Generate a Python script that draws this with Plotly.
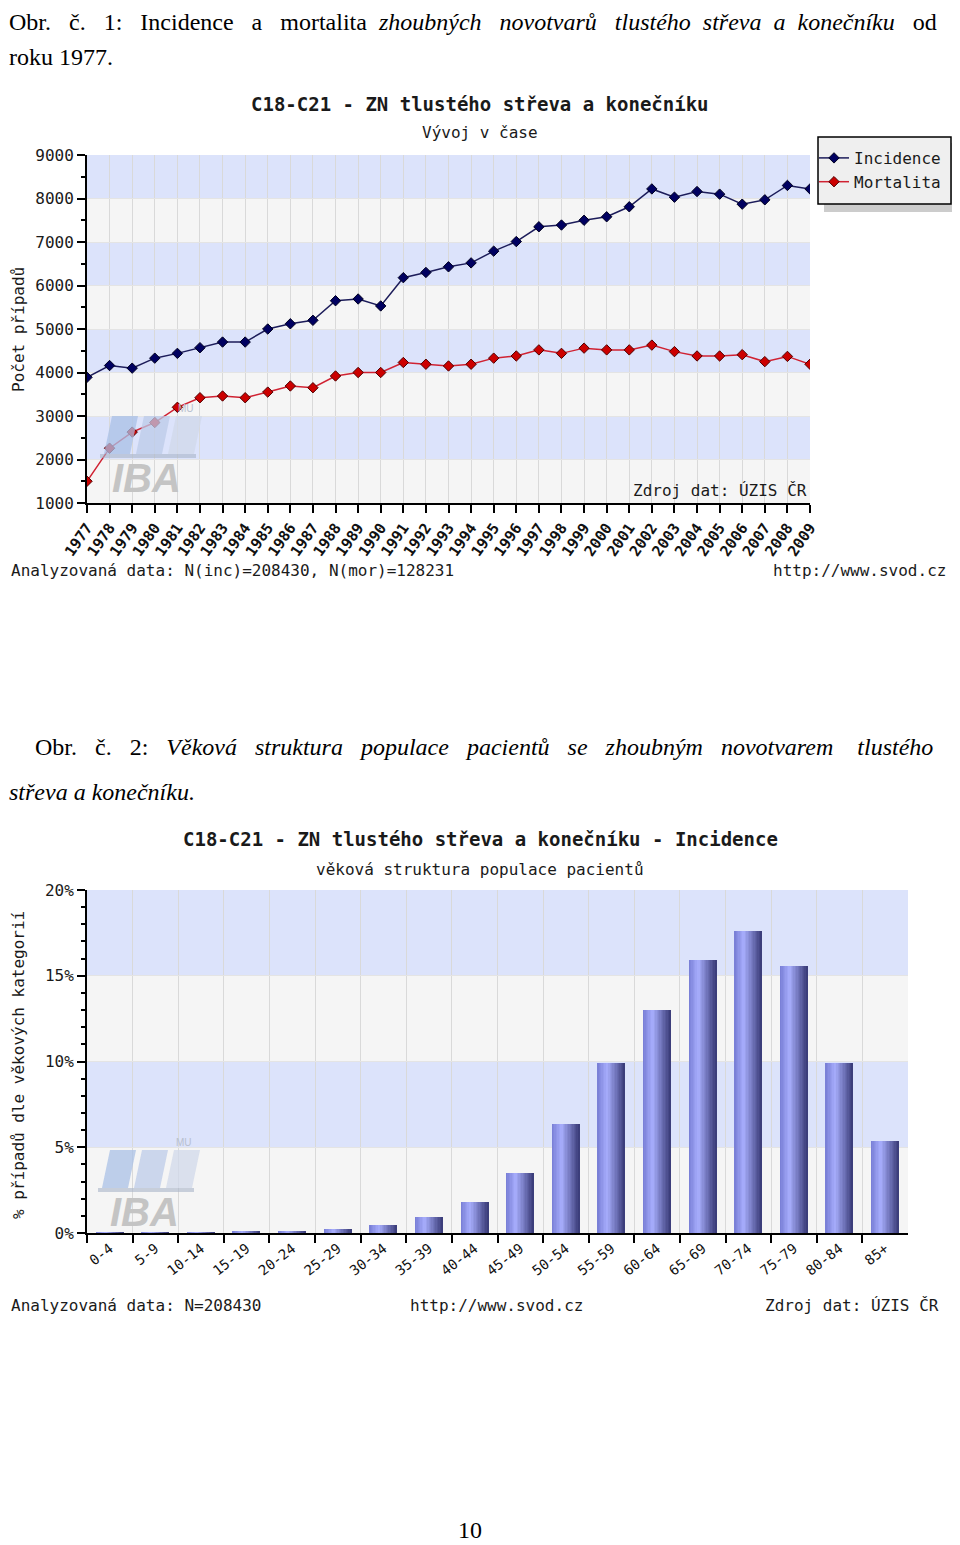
import plotly.graph_objects as go

# ---------------- data ----------------
years = list(range(1977, 2010))
incidence = [3890, 4160, 4100, 4330, 4440, 4570, 4700, 4700, 5000, 5120, 5200,
             5650, 5690, 5530, 6180, 6300, 6430, 6520, 6790, 7010, 7350, 7390,
             7500, 7580, 7810, 8220, 8030, 8160, 8100, 7870, 7970, 8300, 8220]
mortalita = [1500, 2260, 2630, 2850, 3200, 3420, 3460, 3420, 3550, 3690, 3650,
             3920, 4000, 4000, 4230, 4190, 4150, 4190, 4330, 4380, 4520, 4440,
             4560, 4520, 4520, 4630, 4480, 4380, 4380, 4410, 4250, 4370, 4190]

age_groups = ["0-4", "5-9", "10-14", "15-19", "20-24", "25-29", "30-34", "35-39",
              "40-44", "45-49", "50-54", "55-59", "60-64", "65-69", "70-74",
              "75-79", "80-84", "85+"]
age_pct = [0.01, 0.01, 0.03, 0.12, 0.12, 0.25, 0.45, 0.91, 1.78, 3.5, 6.37,
           9.91, 12.98, 15.94, 17.59, 15.59, 9.91, 5.38]

y1_ticks = [1000, 2000, 3000, 4000, 5000, 6000, 7000, 8000, 9000]
y2_ticks = [0, 5, 10, 15, 20]
y2_ticktext = ["0%", "5%", "10%", "15%", "20%"]

# ---------------- layout helpers ----------------
OFF = 8                      # page body margin of the browser
W, H = 960 - OFF, 1545 - OFF
def px(x):
    return (x - OFF) / W
def py(y):
    return 1 - (y - OFF) / H

MONO = "DejaVu Sans Mono"
SERIF = "Liberation Serif"
BLUE_BAND = "#dce3fb"
GRAY_BAND = "#f5f5f5"
GRID = "#d9d9d9"

fig = go.Figure()

# ---- top chart: lines ----
fig.add_trace(go.Scatter(
    x=years, y=incidence, name="Incidence", mode="lines+markers",
    line=dict(color="#1c1c5a", width=1.5),
    marker=dict(symbol="diamond", size=8, color="#000060",
                line=dict(color="#000020", width=1)),
    xaxis="x", yaxis="y"))
fig.add_trace(go.Scatter(
    x=years, y=mortalita, name="Mortalita", mode="lines+markers",
    line=dict(color="#d02232", width=1.5),
    marker=dict(symbol="diamond", size=8, color="#cc0000",
                line=dict(color="#500000", width=1)),
    xaxis="x", yaxis="y"))

# ---- bottom chart: gradient bars made of slices ----
def lerp(c1, c2, t):
    return tuple(int(round(a + (b - a) * t)) for a, b in zip(c1, c2))

c_left, c_mid, c_right = (118, 124, 212), (168, 174, 253), (56, 58, 118)
N = 20
bw = 0.6
for i in range(N):
    t = (i + 0.5) / N
    if t < 0.35:
        c = lerp(c_left, c_mid, t / 0.35)
    else:
        c = lerp(c_mid, c_right, (t - 0.35) / 0.65)
    fig.add_trace(go.Bar(
        x=age_groups, y=age_pct, width=bw / N + 0.002,
        offset=-bw / 2 + i * bw / N,
        marker=dict(color="rgb(%d,%d,%d)" % c, line=dict(width=0)),
        showlegend=False, xaxis="x2", yaxis="y2", hoverinfo="skip"))

shapes = []
# bands top chart
for k, (a, b) in enumerate([(8000, 9000), (7000, 8000), (6000, 7000), (5000, 6000),
                            (4000, 5000), (3000, 4000), (2000, 3000), (1000, 2000)]):
    shapes.append(dict(type="rect", xref="x domain", yref="y", x0=0, x1=1, y0=a, y1=b,
                       fillcolor=BLUE_BAND if k % 2 == 0 else GRAY_BAND,
                       line=dict(width=0), layer="below"))
# bands bottom chart
for k, (a, b) in enumerate([(15, 20), (10, 15), (5, 10), (0, 5)]):
    shapes.append(dict(type="rect", xref="x2 domain", yref="y2", x0=0, x1=1, y0=a, y1=b,
                       fillcolor=BLUE_BAND if k % 2 == 0 else GRAY_BAND,
                       line=dict(width=0), layer="below"))

# legend box + shadow
shapes.append(dict(type="rect", xref="paper", yref="paper",
                   x0=px(824), x1=px(958), y0=py(212), y1=py(143),
                   fillcolor="#cccccc", line=dict(width=0), layer="below"))
shapes.append(dict(type="rect", xref="paper", yref="paper",
                   x0=px(818), x1=px(951), y0=py(204), y1=py(137),
                   fillcolor="#efefef", line=dict(width=1.5, color="black"), layer="below"))

# IBA watermark logos
def iba_logo(x0, y0):
    out = []
    blocks = [(0, "#a9c0e6"), (32, "#bccbe8"), (64, "#d0d8ea")]
    for dx, col in blocks:
        xa = x0 + dx
        path = "M %f %f L %f %f L %f %f L %f %f Z" % (
            px(xa), py(y0 + 38), px(xa + 8), py(y0),
            px(xa + 34), py(y0), px(xa + 26), py(y0 + 38))
        out.append(dict(type="path", xref="paper", yref="paper", path=path,
                        fillcolor=col, opacity=0.75, line=dict(width=0), layer="above"))
    out.append(dict(type="rect", xref="paper", yref="paper",
                    x0=px(x0 - 4), x1=px(x0 + 92), y0=py(y0 + 42), y1=py(y0 + 38),
                    fillcolor="#a8b4c8", opacity=0.6, line=dict(width=0), layer="above"))
    return out

shapes += iba_logo(104, 416)
shapes += iba_logo(102, 1150)

annotations = []
def txt(x, y, s, size=16, family=MONO, anchor="left", color="#1a1a1a", angle=0,
        yanchor="middle", weight="normal"):
    annotations.append(dict(x=px(x), y=py(y), xref="paper", yref="paper", text=s,
                            showarrow=False, xanchor=anchor, yanchor=yanchor,
                            textangle=angle, borderpad=0,
                            font=dict(family=family, size=size, color=color, weight=weight)))

def justify(words, extras):
    out = words[0]
    for w, e in zip(words[1:], extras):
        out += " " + "\u00a0" * e + w
    return out

# page captions (justified lines)
line1 = justify(["Obr.", "č.", "1:", "Incidence", "a", "mortalita", "<i>zhoubných",
                 "novotvarů", "tlustého", "střeva", "a", "konečníku</i>", "od"],
                [2, 2, 2, 2, 2, 1, 2, 2, 1, 1, 1, 2])
txt(8, 8, line1, size=24, family=SERIF, color="#000000", yanchor="top")
txt(8, 57, "roku 1977.", size=24, family=SERIF, color="#000000")
line2 = justify(["Obr.", "č.", "2:", "<i>Věková", "struktura", "populace", "pacientů",
                 "se", "zhoubným", "novotvarem", "tlustého</i>"],
                [2, 2, 2, 2, 2, 2, 2, 2, 2, 3])
txt(34, 747, line2, size=24, family=SERIF, color="#000000")
txt(8, 792, "<i>střeva a konečníku.</i>", size=24, family=SERIF, color="#000000")
txt(470, 1530, "10", size=24, family=SERIF, color="#000000", anchor="center")

# top chart texts
txt(480, 104, "C18-C21 - ZN tlustého střeva a konečníku", size=19, anchor="center", weight="bold")
txt(480, 133, "Vývoj v čase", size=16, anchor="center")
txt(18, 330, "Počet případů", size=16, anchor="center", angle=-90)
txt(808, 491, "Zdroj dat: ÚZIS ČR", size=16, anchor="right")
txt(10, 570, "Analyzovaná data: N(inc)=208430, N(mor)=128231", size=16)
txt(947, 570, "http://www.svod.cz", size=16, anchor="right")
# IBA text
txt(146, 478, "<b><i>IBA</i></b>", size=40, family="Liberation Sans", anchor="center", color="#c4c4c4")
txt(186, 408, "MU", size=10, family="Liberation Sans", anchor="center", color="#b8c0d0")
txt(144, 1212, "<b><i>IBA</i></b>", size=40, family="Liberation Sans", anchor="center", color="#c4c4c4")
txt(184, 1142, "MU", size=10, family="Liberation Sans", anchor="center", color="#b8c0d0")

# bottom chart texts
txt(480, 839, "C18-C21 - ZN tlustého střeva a konečníku - Incidence", size=19, anchor="center", weight="bold")
txt(480, 869, "věková struktura populace pacientů", size=16, anchor="center")
txt(18, 1065, "% případů dle věkových kategorií", size=16, anchor="center", angle=-90)
txt(10, 1305, "Analyzovaná data: N=208430", size=16)
txt(497, 1305, "http://www.svod.cz", size=16, anchor="center")
txt(940, 1305, "Zdroj dat: ÚZIS ČR", size=16, anchor="right")

fig.update_layout(
    width=W, height=H,
    margin=dict(l=0, r=0, t=0, b=0, autoexpand=False),
    paper_bgcolor="white", plot_bgcolor="white",
    barmode="overlay", bargap=0,
    shapes=shapes, annotations=annotations,
    showlegend=True,
    legend=dict(x=px(814), y=py(141), xanchor="left", yanchor="top",
                bgcolor="rgba(0,0,0,0)", borderwidth=0,
                font=dict(family=MONO, size=16, color="#1a1a1a"),
                itemwidth=30),
    xaxis=dict(domain=[px(87), px(810)], anchor="y", range=[1977, 2009], automargin=False,
               tickmode="array", tickvals=years, ticktext=[str(y) for y in years],
               tickangle=-55, tickfont=dict(family=MONO, size=15, color="#111", weight="bold"),
               showgrid=True, gridcolor=GRID, gridwidth=1,
               showline=True, linecolor="black", linewidth=2,
               ticks="outside", ticklen=8, tickcolor="black", tickwidth=2,
               zeroline=False, fixedrange=True),
    yaxis=dict(domain=[py(503), py(155)], anchor="x", range=[1000, 9000], automargin=False,
               tickmode="array", tickvals=y1_ticks,
               tickfont=dict(family=MONO, size=16, color="#1a1a1a"),
               showgrid=True, gridcolor="#e4e4e4",
               showline=True, linecolor="black", linewidth=2,
               ticks="outside", ticklen=8, tickcolor="black", tickwidth=2,
               minor=dict(dtick=500, ticks="outside", ticklen=4, tickcolor="black",
                          showgrid=False),
               zeroline=False, fixedrange=True),
    xaxis2=dict(domain=[px(87), px(908)], anchor="y2", type="category", automargin=False,
                range=[-0.5, 17.5], tickson="boundaries",
                tickangle=-38, tickfont=dict(family=MONO, size=14, color="#111"),
                showgrid=True, gridcolor=GRID, gridwidth=1,
                showline=True, linecolor="black", linewidth=2,
                ticks="outside", ticklen=8, tickcolor="black", tickwidth=2,
                zeroline=False, fixedrange=True),
    yaxis2=dict(domain=[py(1233), py(890)], anchor="x2", range=[0, 20], automargin=False,
                tickmode="array", tickvals=y2_ticks, ticktext=y2_ticktext,
                tickfont=dict(family=MONO, size=16, color="#1a1a1a"),
                showgrid=True, gridcolor="#e4e4e4",
                showline=True, linecolor="black", linewidth=2,
                ticks="outside", ticklen=8, tickcolor="black", tickwidth=2,
                minor=dict(dtick=1, ticks="outside", ticklen=4, tickcolor="black",
                           showgrid=False),
                zeroline=False, fixedrange=True),
)

fig.write_html("out.html")
